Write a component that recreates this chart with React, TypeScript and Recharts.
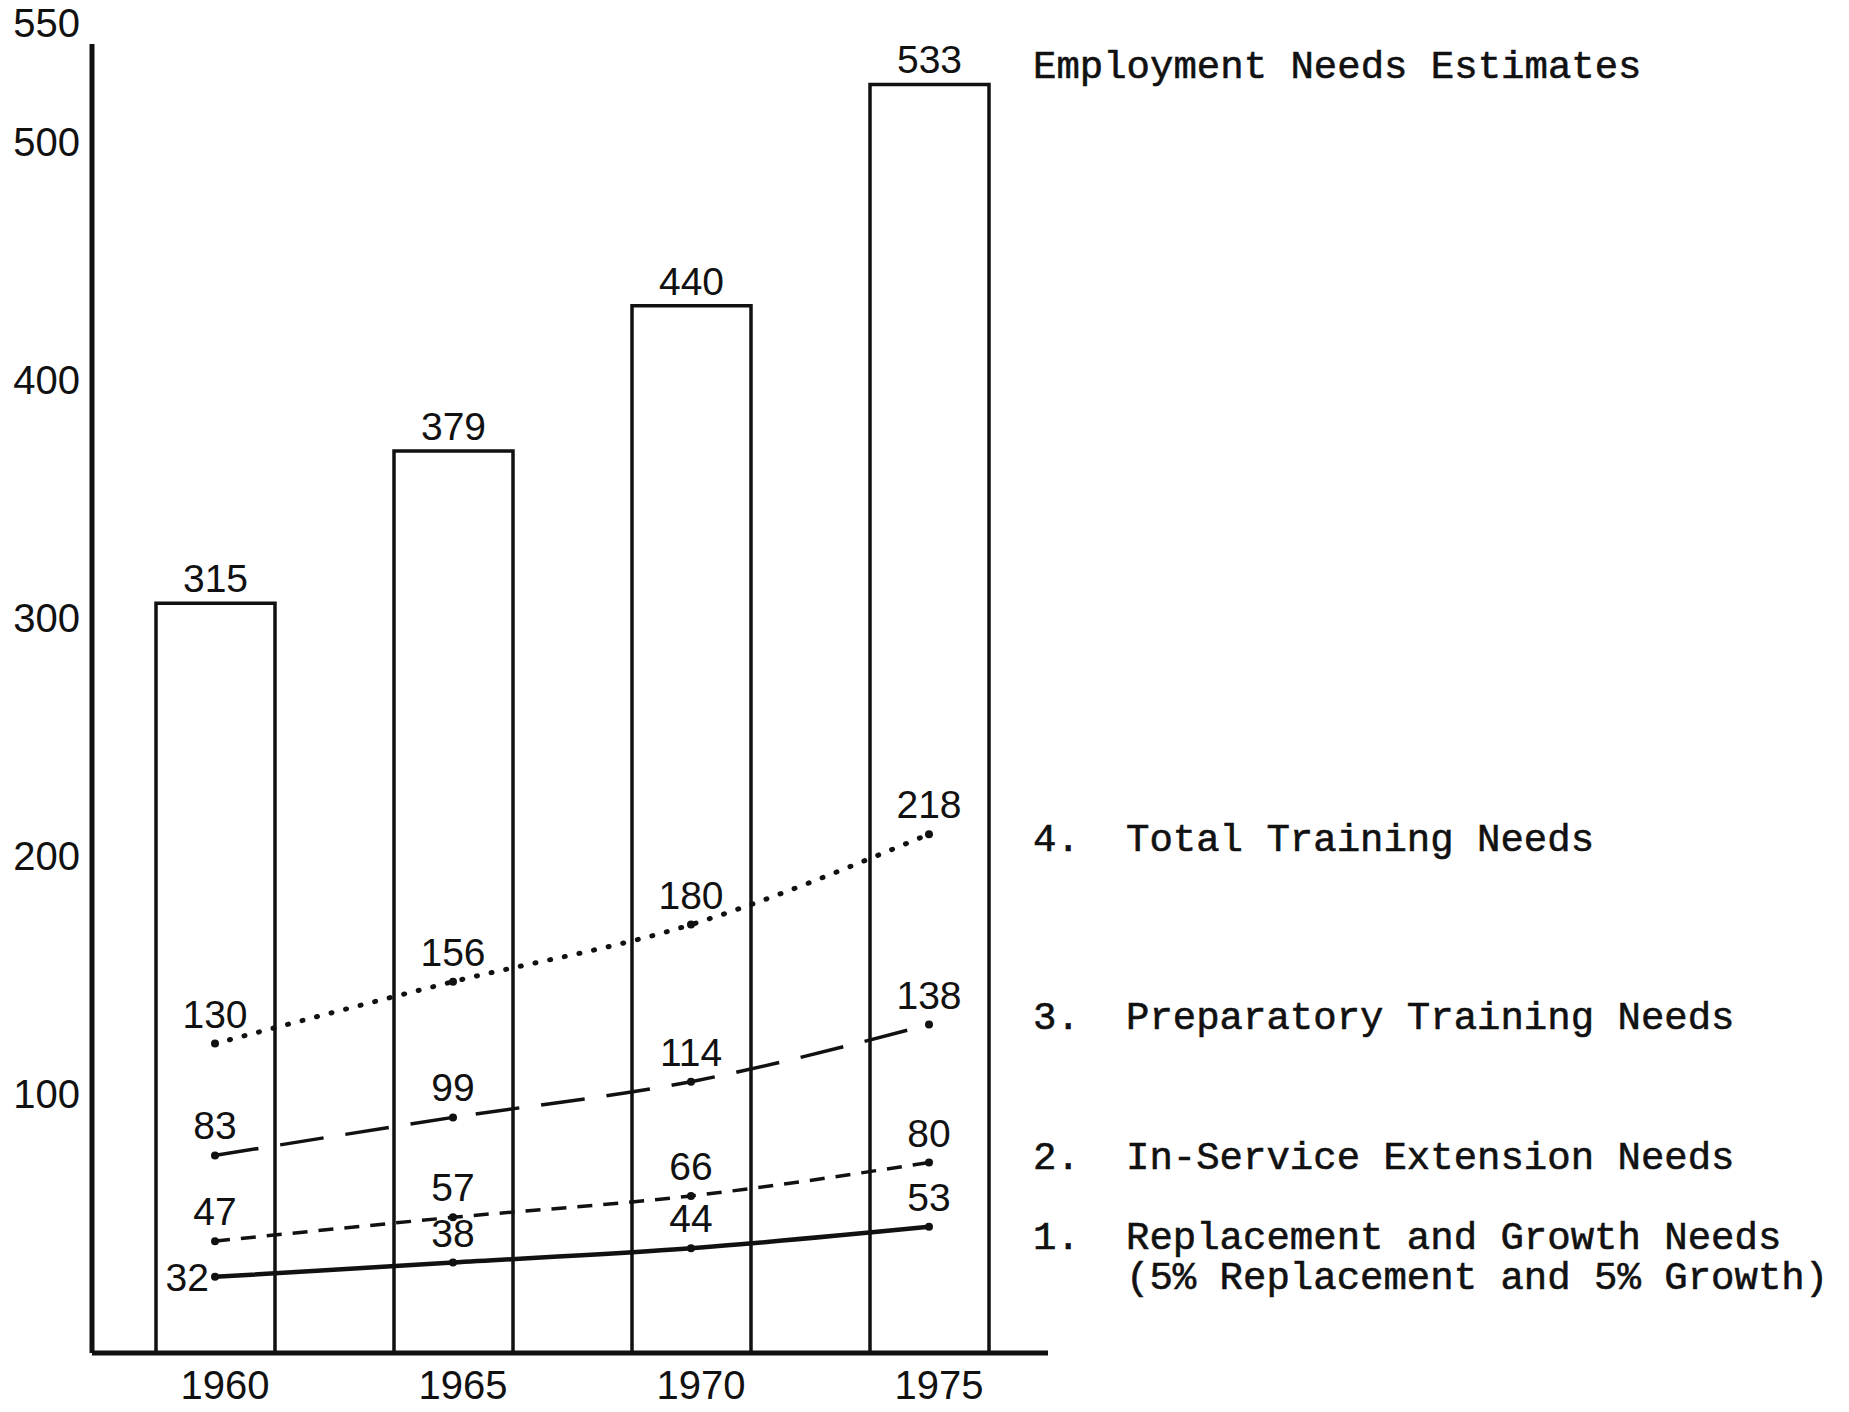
import { ComposedChart, Bar, Line, XAxis, YAxis, LabelList } from "recharts"

const years = ["1960", "1965", "1970", "1975"]
const employmentNeeds = [315, 379, 440, 533]
const totalTraining = [130, 156, 180, 218]
const preparatoryTraining = [83, 99, 114, 138]
const inServiceExtension = [47, 57, 66, 80]
const replacementGrowth = [32, 38, 44, 53]
const yTicks = [100, 200, 300, 400, 500, 550]

const data = years.map((year, i) => ({
  year,
  employment: employmentNeeds[i],
  total: totalTraining[i],
  preparatory: preparatoryTraining[i],
  inService: inServiceExtension[i],
  replacement: replacementGrowth[i],
}))

const W = 1849
const H = 1412
const sans = "'Liberation Sans', Arial, sans-serif"
const mono = "'Liberation Mono', 'Courier New', monospace"
const ink = "#111"

function YTick({ x, y, payload }: any) {
  return (
    <text x={x} y={y - 7} textAnchor="end" fontFamily={sans} fontSize={40} fill={ink}>
      {payload.value}
    </text>
  )
}

function XTick({ x, y, payload }: any) {
  return (
    <text x={x + 10} y={y + 44} textAnchor="middle" fontFamily={sans} fontSize={40} fill={ink}>
      {payload.value}
    </text>
  )
}

// point labels sit above the dot; the first solid-line label sits to its left
function pointLabel(leftFirst: boolean) {
  return ({ x, y, value, index }: any) => {
    if (leftFirst && index === 0) {
      return (
        <text x={x - 6} y={y + 14} textAnchor="end" fontFamily={sans} fontSize={39} fill={ink}>
          {value}
        </text>
      )
    }
    return (
      <text x={x} y={y - 16} textAnchor="middle" fontFamily={sans} fontSize={39} fill={ink}>
        {value}
      </text>
    )
  }
}

const dot = { r: 4, fill: ink, stroke: ink, strokeWidth: 0 }

export default function App() {
  return (
    <div style={{ position: "relative", width: W, height: H, background: "#fff" }}>
      <style>{`body{margin:0}`}</style>
      <ComposedChart
        width={W}
        height={H}
        data={data}
        margin={{ top: 44, right: 801, left: 0, bottom: 0 }}
      >
        <XAxis
          dataKey="year"
          height={59}
          padding={{ left: 4, right: 0 }}
          tickLine={false}
          tickSize={0}
          axisLine={{ stroke: ink, strokeWidth: 5 }}
          tick={<XTick />}
        />
        <YAxis
          width={92}
          domain={[0, 550]}
          ticks={yTicks}
          tickLine={false}
          tickSize={0}
          tickMargin={12}
          axisLine={{ stroke: ink, strokeWidth: 5 }}
          tick={<YTick />}
        />
        <Bar
          dataKey="employment"
          barSize={119}
          fill="#fff"
          stroke={ink}
          strokeWidth={3.5}
          isAnimationActive={false}
        >
          <LabelList
            dataKey="employment"
            position="top"
            offset={11}
            fill={ink}
            fontFamily={sans}
            fontSize={39}
          />
        </Bar>
        <Line
          dataKey="total"
          type="monotone"
          stroke={ink}
          strokeWidth={5}
          strokeDasharray="1 14"
          strokeLinecap="round"
          dot={dot}
          isAnimationActive={false}
        >
          <LabelList dataKey="total" content={pointLabel(false)} />
        </Line>
        <Line
          dataKey="preparatory"
          type="monotone"
          stroke={ink}
          strokeWidth={3.5}
          strokeDasharray="44 22"
          dot={dot}
          isAnimationActive={false}
        >
          <LabelList dataKey="preparatory" content={pointLabel(false)} />
        </Line>
        <Line
          dataKey="inService"
          type="monotone"
          stroke={ink}
          strokeWidth={3.5}
          strokeDasharray="15 11"
          dot={dot}
          isAnimationActive={false}
        >
          <LabelList dataKey="inService" content={pointLabel(false)} />
        </Line>
        <Line
          dataKey="replacement"
          type="monotone"
          stroke={ink}
          strokeWidth={4.5}
          dot={dot}
          isAnimationActive={false}
        >
          <LabelList dataKey="replacement" content={pointLabel(true)} />
        </Line>
      </ComposedChart>

      <svg
        width={W}
        height={H}
        style={{ position: "absolute", left: 0, top: 0, pointerEvents: "none" }}
        fontFamily={mono}
        fontSize={39}
        fill={ink}
        stroke={ink}
        strokeWidth={0.6}
      >
        <text x={1033} y={78}>Employment Needs Estimates</text>
        <text x={1033} y={851}>4.</text>
        <text x={1126} y={851}>Total Training Needs</text>
        <text x={1033} y={1029}>3.</text>
        <text x={1126} y={1029}>Preparatory Training Needs</text>
        <text x={1033} y={1169}>2.</text>
        <text x={1126} y={1169}>In-Service Extension Needs</text>
        <text x={1033} y={1249}>1.</text>
        <text x={1126} y={1249}>Replacement and Growth Needs</text>
        <text x={1126} y={1289}>(5% Replacement and 5% Growth)</text>
      </svg>
    </div>
  )
}
